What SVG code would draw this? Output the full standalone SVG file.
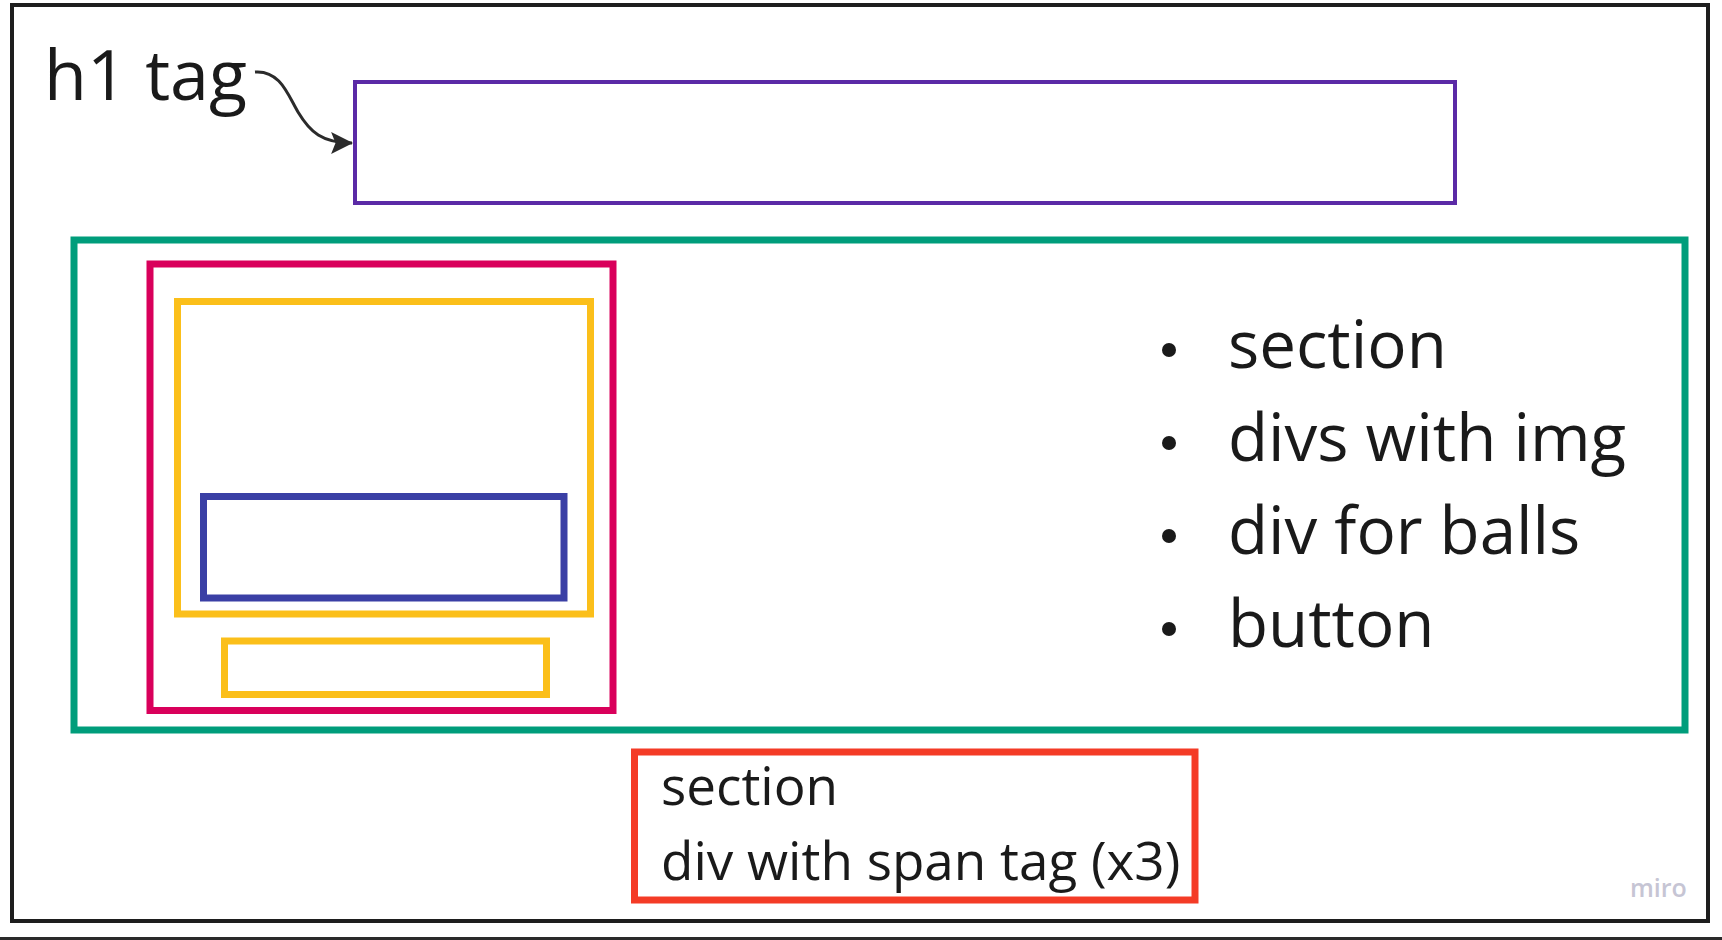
<svg xmlns="http://www.w3.org/2000/svg" width="1722" height="940" viewBox="0 0 1722 940">
<style>
.box{fill:none;stroke-width:7}
.txt{font-family:"Open Sans","Liberation Sans",sans-serif;fill:#1a1a1a}
</style>
<defs>
<marker id="arr" markerUnits="userSpaceOnUse" markerWidth="22" markerHeight="22" viewBox="0 0 20 20" refX="19" refY="10" orient="auto">
<path d="M0,0 L20,10 L0,20 L4,10 z" fill="#2b2b2b"/>
</marker>
</defs>
<rect x="0" y="0" width="1722" height="940" fill="#ffffff"/>
<g id="frame">
<rect x="12" y="5" width="1696" height="916" fill="none" stroke="#1e1e1e" stroke-width="4"/>
<rect x="0" y="937" width="1722" height="3" fill="#2a2a2a"/>
</g>
<g id="h1-label">
<text class="txt" x="44" y="100" font-size="70">h1 tag</text>
</g>
<g id="h1-box">
<rect x="355" y="82" width="1100" height="121" fill="none" stroke="#5b2aa6" stroke-width="4"/>
</g>
<g id="section-box">
<rect class="box" x="74" y="240" width="1611" height="490" stroke="#009d7b"/>
</g>
<g id="card-box">
<rect class="box" x="150" y="264" width="463" height="446.5" stroke="#d9005b"/>
</g>
<g id="img-box">
<rect class="box" x="177.5" y="301.5" width="413" height="312.5" stroke="#fbbf1a"/>
</g>
<g id="balls-box">
<rect class="box" x="203.5" y="496.5" width="360.5" height="101.5" stroke="#3a3fa5"/>
</g>
<g id="button-box">
<rect class="box" x="224.5" y="641" width="322" height="53.5" stroke="#fbbf1a"/>
</g>
<g id="list">
<circle cx="1169" cy="350" r="7" fill="#1a1a1a"/>
<circle cx="1169" cy="443" r="7" fill="#1a1a1a"/>
<circle cx="1169" cy="536" r="7" fill="#1a1a1a"/>
<circle cx="1169" cy="629" r="7" fill="#1a1a1a"/>
<text class="txt" x="1228" y="368" font-size="65.5">section</text>
<text class="txt" x="1228" y="461" font-size="65.5">divs with img</text>
<text class="txt" x="1228" y="554" font-size="65.5">div for balls</text>
<text class="txt" x="1228" y="647" font-size="65.5">button</text>
</g>
<g id="footer-box">
<rect class="box" x="634.5" y="752" width="560.5" height="148" stroke="#f43b26"/>
<text class="txt" x="661" y="805" font-size="53">section</text>
<text class="txt" x="661" y="880" font-size="53">div with span tag (x3)</text>
</g>
<g id="watermark">
<text x="1630" y="897" font-family="'Open Sans','Liberation Sans',sans-serif" font-size="25" font-weight="600" fill="#c6c5d4">miro</text>
</g>
<g id="connectors">
<path d="M255,72 C280,70 288,95 298,112 C310,132 322,143 352,143" fill="none" stroke="#2b2b2b" stroke-width="3" marker-end="url(#arr)"/>
</g>
</svg>
